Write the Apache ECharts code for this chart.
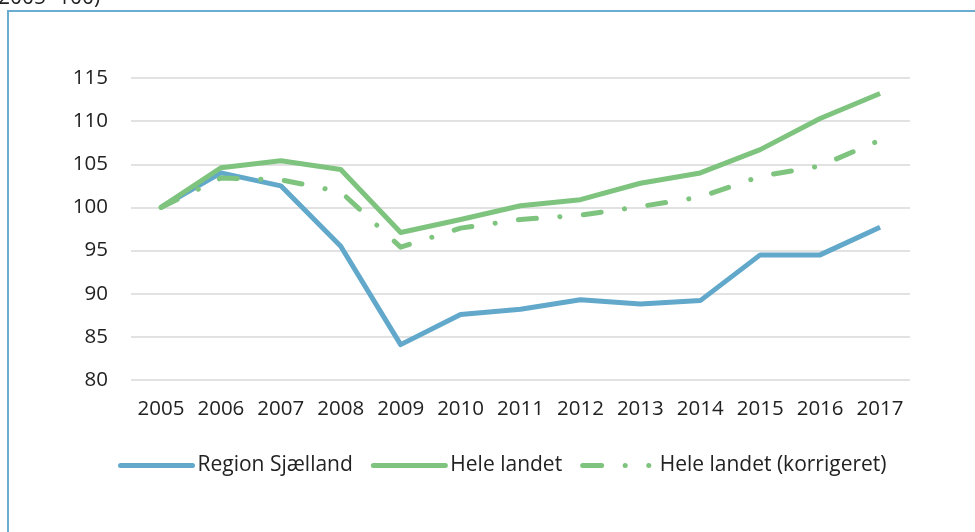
<!DOCTYPE html>
<html>
<head>
<meta charset="utf-8">
<script src="https://cdn.jsdelivr.net/npm/echarts@6/dist/echarts.min.js"></script>
<style>
  html, body { margin: 0; padding: 0; background: #fff; }
  #chart { width: 975px; height: 532px; }
</style>
</head>
<body>
<div id="chart"></div>
<script>
// årstal
const years = ['2005', '2006', '2007', '2008', '2009', '2010', '2011', '2012', '2013', '2014', '2015', '2016', '2017']
// indeks (2005=100)
const regionSjaelland = [100, 104.0, 102.5, 95.5, 84.1, 87.6, 88.2, 89.3, 88.8, 89.2, 94.5, 94.5, 97.7]
const heleLandet = [100, 104.6, 105.4, 104.4, 97.1, 98.6, 100.2, 100.9, 102.8, 104.0, 106.7, 110.3, 113.2]
const heleLandetKorr = [100, 103.4, 103.2, 101.8, 95.4, 97.6, 98.6, 99.1, 100.1, 101.2, 103.6, 104.8, 107.8]

const blue = '#62a8cb'
const green = '#7ec47f'
const font = '"Open Sans", "Noto Sans", sans-serif'
const dashDot = [18, 23.5, 0.1, 23.5]

const myChart = echarts.init(document.getElementById('chart'))

const options = {
  animation: false,
  textStyle: { fontFamily: font },
  graphic: [
    {
      type: 'text',
      left: -2,
      top: -12.5,
      style: { text: '2005=100)', fontSize: 21, fontFamily: font, fill: '#222' }
    },
    {
      type: 'rect',
      shape: { x: 8, y: 11, width: 1000, height: 560 },
      style: { fill: 'none', stroke: '#6aadd0', lineWidth: 2 }
    }
  ],
  legend: {
    top: 450,
    left: 113,
    itemWidth: 72,
    itemHeight: 6,
    itemGap: 18,
    itemStyle: { opacity: 0 },
    lineStyle: { width: 5, cap: 'round' },
    textStyle: { fontSize: 21, color: '#222', fontFamily: font },
    data: [
      { name: 'Region Sjælland' },
      { name: 'Hele landet' },
      { name: 'Hele landet (korrigeret)', lineStyle: { type: [19, 23.5, 0.1, 23.5, 0.1, 40] } }
    ]
  },
  grid: {
    left: 131,
    right: 65,
    top: 78,
    bottom: 152
  },
  xAxis: {
    type: 'category',
    data: years,
    boundaryGap: true,
    axisLine: { show: false },
    axisTick: { show: false },
    axisLabel: { interval: 0, fontSize: 20.5, color: '#222', margin: 19 }
  },
  yAxis: {
    type: 'value',
    min: 80,
    max: 115,
    interval: 5,
    axisLine: { show: false },
    axisTick: { show: false },
    axisLabel: { fontSize: 20.5, color: '#222', margin: 23 },
    splitLine: { lineStyle: { color: '#d9d9d9', width: 1.5 } }
  },
  series: [
    {
      name: 'Region Sjælland',
      type: 'line',
      data: regionSjaelland,
      symbol: 'none',
      itemStyle: { color: blue },
      lineStyle: { color: blue, width: 5, join: 'round' }
    },
    {
      name: 'Hele landet',
      type: 'line',
      data: heleLandet,
      symbol: 'none',
      itemStyle: { color: green },
      lineStyle: { color: green, width: 5, join: 'round' }
    },
    {
      name: 'Hele landet (korrigeret)',
      type: 'line',
      data: heleLandetKorr,
      symbol: 'none',
      itemStyle: { color: green },
      lineStyle: { color: green, width: 5, type: dashDot, cap: 'round', join: 'round' }
    }
  ]
}

myChart.setOption(options)
</script>
</body>
</html>
